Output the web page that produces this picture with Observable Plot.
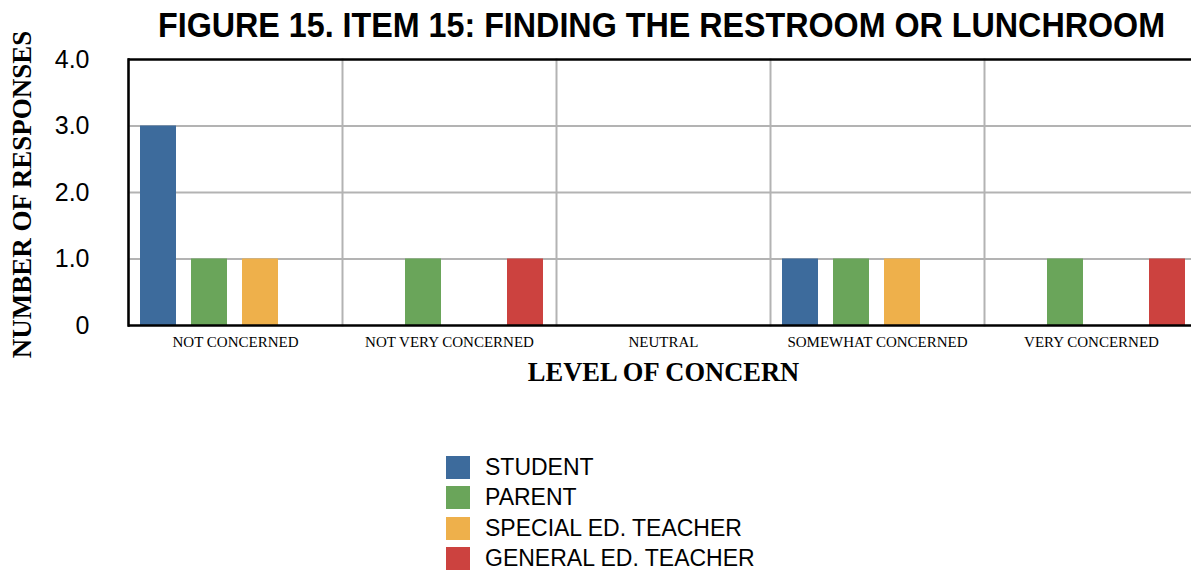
<!DOCTYPE html>
<html><head><meta charset="utf-8">
<script src="https://cdn.jsdelivr.net/npm/d3@7"></script>
<script src="https://cdn.jsdelivr.net/npm/@observablehq/plot@0.6"></script>
<style>
html,body{margin:0;padding:0;background:#fff;overflow:hidden;width:1191px;height:571px}
#title{position:relative;height:30px;width:1191px;z-index:2}
#title span{position:absolute;top:7px;left:158px;font-family:"Liberation Sans",Arial,sans-serif;font-weight:bold;font-size:35px;line-height:35px;white-space:nowrap;transform-origin:0 0;color:#000}
#chart{width:1198px}
#chart svg{display:block;max-width:none !important;overflow:visible}
#legend{margin-top:60px;margin-left:446px}
.row{display:flex;align-items:flex-start;height:30.33px}
.sw{width:24px;height:23px;margin-right:15px}
.lab{font-family:"Liberation Sans",Arial,sans-serif;font-size:23px;line-height:23px;color:#000}
</style></head><body>
<div id="title"><span id="tspan"></span></div>
<div id="chart"></div>
<div id="legend"></div>
<script>
const categories = ["NOT CONCERNED","NOT VERY CONCERNED","NEUTRAL","SOMEWHAT CONCERNED","VERY CONCERNED"];
const groups = ["STUDENT","PARENT","SPECIAL ED. TEACHER","GENERAL ED. TEACHER"];
const student   = [3,0,0,1,0];
const parent    = [1,1,0,1,1];
const specialEd = [1,0,0,1,0];
const generalEd = [0,1,0,0,1];
const colors = ["#3d6b9c","#6aa55a","#eeb04b","#cc423f"];
const yTicks = [0,1,2,3,4];
const titleText = "FIGURE 15. ITEM 15: FINDING THE RESTROOM OR LUNCHROOM";
const xTitle = "LEVEL OF CONCERN";
const yTitle = "NUMBER OF RESPONSES";

const series = [student, parent, specialEd, generalEd];
const data = categories.flatMap((c,i)=>groups.map((g,j)=>({category:c, group:g, value: series[j][i]})));

// title
const ts = document.getElementById("tspan");
ts.textContent = titleText;
const w = ts.getBoundingClientRect().width;
ts.style.transform = `scaleX(${1007 / w})`;

const plot = Plot.plot({
  width: 1198, height: 366,
  marginLeft: 127, marginRight: 0, marginTop: 29, marginBottom: 71,
  style: {background: "transparent", color: "black", fontFamily: "Liberation Sans, Arial, sans-serif", overflow: "visible"},
  fx: {domain: categories, padding: 0, label: null},
  x: {domain: groups, paddingInner: 0.294, paddingOuter: 0.245, axis: null},
  y: {domain: [0, 4]},
  color: {domain: groups, range: colors},
  marks: [
    Plot.ruleY(yTicks.slice(1, 4), {stroke: "#b3b3b3", strokeWidth: 2}),
    Plot.frame({anchor: "left", stroke: "#b3b3b3", strokeWidth: 2}),
    Plot.barY(data, {fx: "category", x: "group", y: "value", fill: "group"}),
    Plot.ruleY([0, 4], {stroke: "black", strokeWidth: 2.5}),
    Plot.frame({anchor: "left", stroke: "black", strokeWidth: 2.5, facetAnchor: "left"}),
    Plot.axisY({ticks: yTicks, tickFormat: d => d === 0 ? "0" : d.toFixed(1), tickSize: 0, tickPadding: 39,
      fontSize: 25, fontFamily: "Liberation Sans, Arial, sans-serif", fill: "black", label: null}),
    Plot.axisFx({anchor: "bottom", tickSize: 0, tickPadding: 11, fontSize: 15,
      fontFamily: "Liberation Serif, Times New Roman, serif", fill: "black", label: null}),
    Plot.text([xTitle], {fx: () => categories[2], text: d => d, frameAnchor: "bottom", dy: 47, lineAnchor: "middle",
      fontSize: 26.5, fontWeight: "bold", fontFamily: "Liberation Serif, Times New Roman, serif", fill: "black"}),
    Plot.text([yTitle], {fx: () => categories[0], text: d => d, frameAnchor: "left", dx: -106, dy: 2, rotate: -90,
      textAnchor: "middle", lineAnchor: "middle",
      fontSize: 27, fontWeight: "bold", fontFamily: "Liberation Serif, Times New Roman, serif", fill: "black"})
  ]
});
document.getElementById("chart").appendChild(plot);

// legend
const leg = document.getElementById("legend");
groups.forEach((g, i) => {
  const row = document.createElement("div");
  row.className = "row";
  row.innerHTML = `<div class="sw" style="background:${colors[i]}"></div><div class="lab">${g}</div>`;
  leg.appendChild(row);
});
</script>
</body></html>
